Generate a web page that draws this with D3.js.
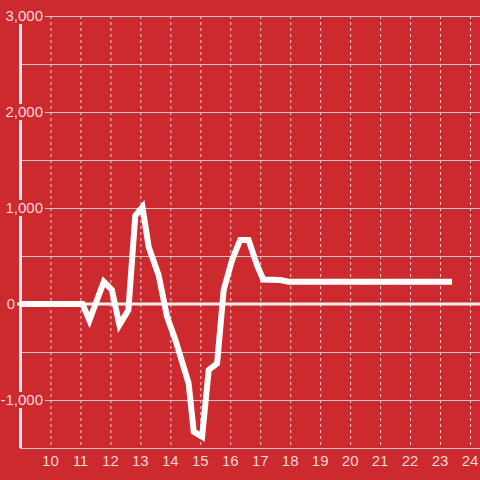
<!DOCTYPE html>
<html>
<head>
<meta charset="utf-8">
<script src="https://cdn.jsdelivr.net/npm/d3@7"></script>
<style>
  body { margin: 0; background: #cc2a2f; }
  svg { display: block; }
</style>
</head>
<body>
<div id="chart"></div>
<script>
// data
const xs = [9, 10, 11.07, 11.3, 11.78, 12.05, 12.3, 12.6, 12.83, 13.07, 13.28, 13.61, 13.89, 14.17, 14.44, 14.61, 14.78, 15.06, 15.28, 15.56, 15.78, 16.06, 16.33, 16.61, 16.9, 17.1, 17.67, 17.94, 19, 20, 21, 22, 23, 23.4]
const ys = [0, 0, 0, -170, 232, 146, -219, -62, 920, 1010, 590, 300, -132, -375, -653, -826, -1330, -1382, -687, -618, 146, 458, 667, 667, 400, 255, 250, 232, 232, 232, 232, 232, 232, 232]
const xTicks = [10, 11, 12, 13, 14, 15, 16, 17, 18, 19, 20, 21, 22, 23, 24]
const yTicks = [3000, 2500, 2000, 1500, 1000, 500, 0, -500, -1000, -1500]
const yLabels = [3000, 2000, 1000, 0, -1000]

const width = 480
const height = 480
const bg = "#cc2a2f"
const textColor = "rgba(255,240,240,0.88)"
const font = "'Liberation Sans', Arial, sans-serif"

const svg = d3.select("#chart").append("svg")
  .attr("width", width)
  .attr("height", height)

svg.append("rect").attr("width", width).attr("height", height).attr("fill", bg)

const x = d3.scaleLinear().domain([9, 24.333]).range([20.5, 480])
const y = d3.scaleLinear().domain([-1500, 3000]).range([448, 16])

// vertical dashed grid
svg.append("g").selectAll("line").data(xTicks).enter()
  .append("line")
  .attr("x1", d => x(d) + 0.5).attr("x2", d => x(d) + 0.5)
  .attr("y1", y(3000)).attr("y2", y(-1500))
  .attr("stroke", "#e8d4d4")
  .attr("stroke-width", 1)
  .attr("stroke-dasharray", "3,3")

// horizontal grid
svg.append("g").selectAll("line").data(yTicks.filter(d => d !== 0)).enter()
  .append("line")
  .attr("x1", x(9)).attr("x2", width)
  .attr("y1", d => y(d) + 0.5).attr("y2", d => y(d) + 0.5)
  .attr("stroke", "#d0c4c4")
  .attr("stroke-width", 1)

// zero line
svg.append("line")
  .attr("x1", 17).attr("x2", width)
  .attr("y1", y(0)).attr("y2", y(0))
  .attr("stroke", "#f4eeee")
  .attr("stroke-width", 3)

// y axis line
svg.append("line")
  .attr("x1", x(9)).attr("x2", x(9))
  .attr("y1", y(3000)).attr("y2", y(-1500))
  .attr("stroke", "#f4eeee")
  .attr("stroke-width", 3)

// the series
const line = d3.line()
  .x((d, i) => x(xs[i]))
  .y(d => y(d))

svg.append("defs").append("clipPath").attr("id", "clip")
  .append("rect").attr("x", 17).attr("y", 0).attr("width", width).attr("height", height)

svg.append("path")
  .datum(ys)
  .attr("clip-path", "url(#clip)")
  .attr("d", line)
  .attr("fill", "none")
  .attr("stroke", "#ffffff")
  .attr("stroke-width", 6)
  .attr("stroke-linejoin", "miter")

// y labels with background boxes
const yl = svg.append("g")
  .style("font-family", font)
  .style("font-size", "15px")
yLabels.forEach(v => {
  const g = yl.append("g")
  const t = g.append("text")
    .attr("x", v === 0 ? 15 : 43)
    .attr("y", y(v))
    .attr("dy", "0.36em")
    .attr("text-anchor", "end")
    .attr("fill", textColor)
    .text(d3.format(",")(v).replace("−", "-"))
  if (v === 0) return
  const b = t.node().getBBox()
  g.insert("rect", "text")
    .attr("x", b.x - 1).attr("y", y(v) - 8)
    .attr("width", b.width + 3).attr("height", 16)
    .attr("fill", bg)
})

// x axis line and labels
svg.append("line")
  .attr("x1", x(9)).attr("x2", width)
  .attr("y1", 448.5).attr("y2", 448.5)
  .attr("stroke", "#d0c4c4")

svg.append("g").selectAll("text").data(xTicks).enter()
  .append("text")
  .attr("x", d => x(d))
  .attr("y", 466)
  .attr("text-anchor", "middle")
  .attr("fill", textColor)
  .style("font-family", font)
  .style("font-size", "15px")
  .text(d => d)
</script>
</body>
</html>
